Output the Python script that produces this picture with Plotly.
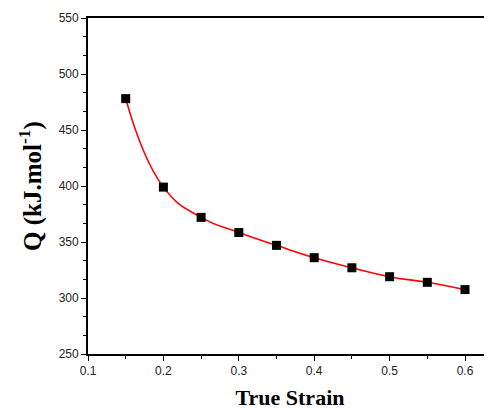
import plotly.graph_objects as go

strain = [0.15, 0.2, 0.25, 0.3, 0.35, 0.4, 0.45, 0.5, 0.55, 0.6]
q_values = [478, 399, 372, 358.5, 347, 336, 327, 319, 314, 307.5]
x_ticks = [0.1, 0.2, 0.3, 0.4, 0.5, 0.6]
y_ticks = [250, 300, 350, 400, 450, 500, 550]

fig = go.Figure()
fig.add_trace(go.Scatter(x=strain, y=q_values, mode="lines",
                         line=dict(color="#ff0000", width=1.6, shape="spline", smoothing=1.3),
                         showlegend=False, hoverinfo="skip"))
fig.add_trace(go.Scatter(x=strain, y=q_values, mode="markers",
                         marker=dict(symbol="square", size=9, color="black"),
                         showlegend=False))

# page body has an 8px default margin, so the figure is offset by 8px
fig.update_layout(
    width=484, height=404,
    margin=dict(l=80, r=0, t=10, b=58),
    paper_bgcolor="white", plot_bgcolor="white",
    font=dict(family="Liberation Sans, Arial", size=12, color="#222"),
)
fig.update_xaxes(
    automargin=False,
    range=[0.1, 0.6358], tickvals=x_ticks, ticktext=[str(v) for v in x_ticks],
    showline=True, linecolor="black", linewidth=1.8, mirror=True,
    ticks="outside", ticklen=5, tickwidth=1.3, tickcolor="black",
    minor=dict(dtick=0.05, tick0=0.1, ticks="outside", ticklen=3, tickcolor="black", tickwidth=1.3),
    showgrid=False, zeroline=False,
    title=dict(text="True Strain", standoff=12,
               font=dict(family="Liberation Serif, Times New Roman", size=22, color="black", weight="bold")),
)
fig.update_yaxes(
    automargin=False,
    range=[250, 550], tickvals=y_ticks,
    showline=True, linecolor="black", linewidth=1.8, mirror=False,
    ticks="outside", ticklen=5, tickwidth=1.3, tickcolor="black",
    minor=dict(dtick=50/3, tick0=250, ticks="outside", ticklen=3, tickcolor="black", tickwidth=1.3),
    showgrid=False, zeroline=False,
    title=dict(text="Q (kJ.mol<sup>-1</sup>)", standoff=10,
               font=dict(family="Liberation Serif, Times New Roman", size=25, color="black", weight="bold")),
)
fig.write_html("out.html")
